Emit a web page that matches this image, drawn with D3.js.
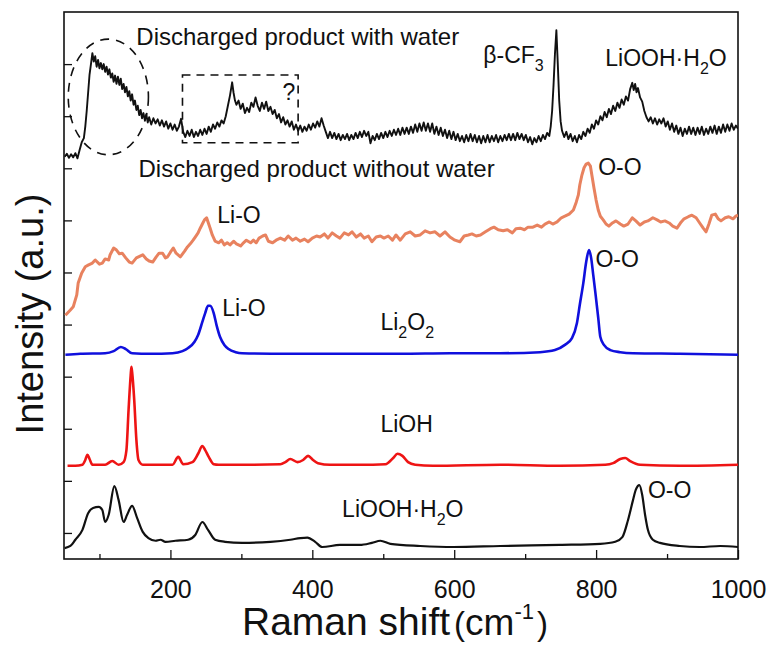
<!DOCTYPE html>
<html lang="en">
<head>
<meta charset="UTF-8">
<title>Raman spectra</title>
<script src="https://d3js.org/d3.v7.min.js"></script>
<style>
body { margin: 0; background: #fff; }
text { font-family: "Liberation Sans", Arial, sans-serif; fill: #111; }
</style>
</head>
<body>
<svg width="772" height="646"></svg>
<script>
// Raman shift (cm-1) vs stacked intensity (a.u., offset per trace)
const xTicks = [200, 400, 600, 800, 1000];
const xMinorTicks = [100, 300, 500, 700, 900];
const yTicks = [0, 1, 2, 3, 4, 5, 6, 7, 8, 9];

// discharged product with water (noisy)
const wetSpectrum = [
  [51,7.22],[54,7.28],[57,7.20],[60,7.27],[63,7.21],[66,7.29],[69,7.19],[72,7.35],[75,7.50],[78,7.58],
  [80,7.80],[82,8.10],[84,8.45],[86,8.80],[88,9.00],[90,9.21],[92,9.05],[94,9.15],[96,8.95],[98,9.08],
  [100,8.92],[102,9.02],[104,8.90],[106,9.00],[108,8.85],[110,8.95],[112,8.80],[114,8.90],[116,8.74],[118,8.82],
  [120,8.66],[122,8.78],[124,8.62],[126,8.76],[128,8.60],[130,8.72],[132,8.52],[134,8.62],[136,8.46],[138,8.56],
  [140,8.38],[142,8.48],[144,8.30],[146,8.42],[148,8.22],[150,8.30],[152,8.12],[154,8.20],[156,8.02],[158,8.12],
  [160,7.96],[162,8.06],[164,7.92],[166,8.04],[168,7.88],[170,7.98],[173,7.84],[176,7.96],[179,7.86],[182,7.94],
  [185,7.82],[188,7.92],[191,7.80],[194,7.90],[197,7.76],[200,7.86],[203,7.74],[206,7.84],[209,7.72],[212,7.80],
  [215,7.95],[218,7.70],[221,7.60],[224,7.72],[227,7.62],[230,7.74],[233,7.60],[236,7.70],[239,7.62],[242,7.74],
  [245,7.64],[248,7.76],[251,7.66],[254,7.80],[257,7.70],[260,7.84],[263,7.76],[266,7.88],[269,7.80],[272,7.92],
  [275,7.86],[278,8.00],[281,8.20],[284,8.40],[287,8.65],[289,8.45],[291,8.30],[293,8.22],[296,8.30],[299,8.14],
  [302,8.24],[305,8.06],[308,8.16],[311,8.08],[314,8.26],[317,8.18],[320,8.36],[323,8.20],[326,8.10],[329,8.26],
  [332,8.14],[335,8.28],[338,8.10],[341,8.18],[344,8.04],[347,8.12],[350,7.96],[353,8.04],[356,7.88],[359,7.98],
  [362,7.84],[365,7.92],[368,7.80],[371,7.90],[374,7.74],[377,7.84],[380,7.72],[383,7.82],[386,7.70],[389,7.80],
  [392,7.72],[395,7.84],[398,7.74],[401,7.86],[404,7.78],[407,7.90],[410,7.80],[413,7.96],[416,7.82],[419,7.70],
  [422,7.58],[425,7.70],[428,7.58],[431,7.68],[434,7.56],[437,7.66],[440,7.54],[443,7.64],[446,7.56],[449,7.66],
  [452,7.54],[455,7.64],[458,7.56],[461,7.68],[464,7.58],[467,7.70],[470,7.60],[473,7.72],[476,7.62],[479,7.70],
  [482,7.48],[485,7.62],[488,7.54],[491,7.66],[494,7.56],[497,7.68],[500,7.58],[503,7.70],[506,7.60],[509,7.72],
  [512,7.62],[515,7.74],[518,7.64],[521,7.76],[524,7.64],[527,7.78],[530,7.66],[533,7.78],[536,7.66],[539,7.80],
  [542,7.68],[545,7.84],[548,7.70],[551,7.86],[554,7.72],[557,7.88],[560,7.72],[563,7.86],[566,7.70],[569,7.86],
  [572,7.66],[575,7.80],[578,7.64],[581,7.78],[584,7.62],[587,7.74],[590,7.58],[593,7.72],[596,7.56],[599,7.70],
  [602,7.54],[605,7.66],[608,7.52],[611,7.62],[614,7.50],[617,7.64],[620,7.52],[623,7.66],[626,7.52],[629,7.64],
  [632,7.50],[635,7.62],[638,7.48],[641,7.62],[644,7.50],[647,7.64],[650,7.50],[653,7.62],[656,7.52],[659,7.64],
  [662,7.50],[665,7.62],[668,7.52],[671,7.64],[674,7.54],[677,7.66],[680,7.54],[683,7.66],[686,7.54],[689,7.68],
  [692,7.56],[695,7.66],[698,7.54],[701,7.64],[704,7.50],[707,7.60],[710,7.46],[713,7.58],[716,7.50],[719,7.62],
  [722,7.52],[725,7.64],[728,7.56],[731,7.68],[734,7.62],[736,7.80],[738,8.10],[740,8.60],[742,9.20],[744,9.65],
  [746,9.00],[748,8.30],[750,7.90],[752,7.72],[755,7.60],[758,7.70],[761,7.56],[764,7.66],[767,7.52],[770,7.62],
  [773,7.50],[776,7.64],[779,7.56],[782,7.70],[785,7.62],[788,7.76],[791,7.68],[794,7.84],[797,7.76],[800,7.92],
  [803,7.84],[806,8.00],[809,7.92],[812,8.08],[815,7.98],[818,8.14],[821,8.04],[824,8.20],[827,8.10],[830,8.26],
  [833,8.16],[836,8.32],[839,8.22],[842,8.38],[845,8.30],[848,8.52],[851,8.64],[853,8.50],[855,8.62],[857,8.46],
  [859,8.54],[862,8.36],[865,8.28],[868,8.10],[871,7.98],[874,7.90],[877,7.98],[880,7.86],[883,7.96],[886,7.84],
  [889,7.94],[892,7.86],[895,7.96],[898,7.80],[901,7.90],[904,7.74],[907,7.86],[910,7.70],[913,7.82],[916,7.66],
  [919,7.78],[922,7.62],[925,7.76],[928,7.66],[931,7.80],[934,7.66],[937,7.78],[940,7.64],[943,7.78],[946,7.66],
  [949,7.80],[952,7.64],[955,7.76],[958,7.66],[961,7.80],[964,7.68],[967,7.82],[970,7.66],[973,7.80],[976,7.68],
  [979,7.84],[982,7.70],[985,7.84],[988,7.72],[991,7.86],[994,7.74],[997,7.82],[1000,7.76]
];

// discharged product without water
const drySpectrum = [
  [52,4.18],[59,4.28],[63,4.34],[68,4.57],[70,4.80],[75,4.99],[80,5.11],[84,5.14],[90,5.18],[94,5.24],
  [100,5.16],[104,5.18],[108,5.26],[113,5.24],[115,5.34],[120,5.47],[124,5.43],[128,5.36],[132,5.37],[137,5.28],
  [142,5.20],[146,5.18],[152,5.28],[158,5.32],[161,5.34],[166,5.26],[170,5.22],[175,5.20],[180,5.30],[184,5.37],
  [189,5.37],[193,5.28],[196,5.30],[200,5.39],[204,5.47],[208,5.37],[214,5.30],[220,5.41],[224,5.49],[228,5.55],
  [232,5.62],[235,5.68],[239,5.76],[242,5.85],[245,5.93],[248,6.01],[251,6.05],[253,5.97],[256,5.85],[259,5.72],
  [263,5.60],[268,5.57],[272,5.62],[276,5.53],[280,5.57],[284,5.53],[289,5.60],[293,5.55],[299,5.51],[303,5.57],
  [307,5.62],[313,5.57],[317,5.62],[321,5.57],[325,5.66],[330,5.70],[334,5.72],[338,5.60],[344,5.57],[349,5.62],
  [355,5.66],[361,5.62],[366,5.70],[372,5.62],[377,5.66],[383,5.60],[389,5.64],[394,5.59],[400,5.66],[406,5.70],
  [411,5.68],[417,5.74],[422,5.66],[428,5.76],[434,5.70],[439,5.66],[445,5.76],[451,5.72],[456,5.78],[462,5.68],
  [468,5.74],[473,5.66],[479,5.70],[484,5.59],[490,5.68],[496,5.70],[501,5.66],[507,5.70],[513,5.62],[518,5.72],
  [524,5.62],[531,5.74],[538,5.78],[545,5.70],[552,5.72],[559,5.80],[566,5.76],[573,5.78],[580,5.70],[587,5.78],
  [594,5.68],[601,5.62],[608,5.59],[614,5.70],[620,5.72],[625,5.74],[631,5.70],[637,5.72],[644,5.78],[651,5.84],
  [656,5.87],[662,5.82],[669,5.80],[675,5.82],[682,5.76],[687,5.84],[693,5.85],[699,5.82],[704,5.87],[711,5.87],
  [717,5.91],[723,5.87],[728,5.93],[734,5.97],[739,5.93],[745,5.97],[751,6.05],[756,6.08],[762,6.12],[768,6.20],
  [772,6.35],[775,6.49],[777,6.68],[780,6.87],[783,7.01],[786,7.08],[789,7.10],[792,7.04],[794,6.87],[797,6.62],
  [800,6.39],[803,6.20],[806,6.08],[810,6.01],[814,5.93],[818,5.89],[823,5.95],[828,5.99],[834,5.93],[839,5.89],
  [845,5.93],[851,6.05],[856,5.99],[862,5.91],[868,5.97],[873,5.99],[880,6.05],[886,6.01],[891,5.97],[897,5.99],
  [903,5.95],[908,5.89],[914,5.85],[920,5.97],[924,6.03],[930,6.07],[935,6.10],[941,6.05],[946,5.95],[951,5.85],
  [955,5.78],[959,5.93],[963,6.10],[968,6.12],[972,6.03],[976,5.99],[982,6.05],[987,6.07],[993,6.03],[997,6.08],
  [1000,6.10]
];

// Li2O2 reference
const li2o2Spectrum = [
  [52,3.42],[73,3.44],[108,3.45],[120,3.49],[130,3.57],[137,3.53],[146,3.45],[172,3.44],[203,3.45],[217,3.49],
  [225,3.55],[234,3.67],[239,3.80],[245,4.05],[249,4.22],[253,4.36],[256,4.36],[261,4.22],[265,3.99],[270,3.76],
  [276,3.61],[282,3.53],[292,3.47],[301,3.45],[366,3.44],[453,3.44],[524,3.44],[594,3.45],[665,3.45],[721,3.47],
  [742,3.51],[756,3.61],[766,3.74],[773,4.03],[777,4.38],[782,4.80],[786,5.20],[790,5.43],[793,5.28],[796,4.95],
  [799,4.61],[803,4.13],[806,3.76],[811,3.61],[820,3.51],[834,3.47],[852,3.45],[918,3.44],[1000,3.42]
];

// LiOH reference
const liohSpectrum = [
  [55,1.29],[66,1.29],[76,1.31],[80,1.40],[83,1.50],[86,1.42],[90,1.31],[108,1.31],[118,1.38],[127,1.31],
  [134,1.36],[138,1.59],[141,2.36],[144,3.03],[145,3.19],[146,3.09],[149,2.55],[152,1.79],[155,1.40],[161,1.31],
  [203,1.31],[211,1.46],[218,1.32],[231,1.36],[239,1.52],[245,1.67],[249,1.59],[254,1.46],[261,1.32],[268,1.31],
  [313,1.31],[355,1.32],[362,1.36],[369,1.42],[379,1.36],[387,1.40],[394,1.48],[401,1.40],[408,1.34],[425,1.31],
  [468,1.31],[503,1.32],[514,1.44],[520,1.52],[527,1.48],[535,1.36],[545,1.31],[570,1.29],[665,1.31],[749,1.29],
  [813,1.31],[824,1.34],[834,1.42],[841,1.44],[848,1.38],[862,1.31],[918,1.29],[1000,1.31]
];

// LiOOH·H2O reference
const liooh0Spectrum = [
  [51,-0.29],[59,-0.25],[66,-0.13],[76,0.06],[84,0.38],[91,0.48],[99,0.50],[104,0.44],[108,0.21],[113,0.35],
  [121,0.90],[127,0.63],[134,0.21],[139,0.35],[146,0.52],[153,0.29],[161,0.02],[169,-0.10],[179,-0.15],[186,-0.13],
  [193,-0.17],[207,-0.15],[225,-0.13],[235,-0.04],[245,0.21],[253,0.06],[263,-0.13],[277,-0.17],[301,-0.19],[341,-0.17],
  [369,-0.13],[383,-0.10],[393,-0.09],[404,-0.17],[414,-0.27],[439,-0.23],[467,-0.23],[484,-0.19],[496,-0.15],[510,-0.21],
  [552,-0.25],[599,-0.27],[665,-0.25],[749,-0.23],[806,-0.21],[827,-0.17],[837,-0.08],[845,0.25],[852,0.63],[856,0.83],
  [861,0.92],[865,0.73],[869,0.35],[873,0.06],[880,-0.13],[890,-0.19],[918,-0.25],[946,-0.27],[975,-0.25],[1000,-0.27]
];

const svg = d3.select('svg');
const plotLeft = 64, plotRight = 738, plotTop = 12, plotBottom = 559;

const x = d3.scaleLinear().domain([50, 1000]).range([plotLeft, plotRight]);
const y = d3.scaleLinear().domain([-0.5, 10]).range([plotBottom, plotTop]);

svg.append('defs').append('clipPath').attr('id', 'plotClip')
  .append('rect')
  .attr('x', plotLeft).attr('y', plotTop)
  .attr('width', plotRight - plotLeft).attr('height', plotBottom - plotTop);

// axes (ticks point inward)
const xAxis = svg.append('g')
  .attr('transform', `translate(0,${plotBottom})`)
  .call(d3.axisBottom(x).tickValues(xTicks).tickSize(-9).tickPadding(21).tickFormat(d3.format('d')));
xAxis.select('.domain').remove();
xAxis.selectAll('line').attr('stroke', '#111').attr('stroke-width', 1.3);
xAxis.selectAll('text').attr('font-size', '25px').attr('fill', '#111')
  .attr('font-family', '"Liberation Sans", Arial, sans-serif');

const xMinor = svg.append('g')
  .attr('transform', `translate(0,${plotBottom})`)
  .call(d3.axisBottom(x).tickValues(xMinorTicks).tickSize(-5).tickFormat(''));
xMinor.select('.domain').remove();
xMinor.selectAll('line').attr('stroke', '#111').attr('stroke-width', 1.3);

const yAxis = svg.append('g')
  .attr('transform', `translate(${plotLeft},0)`)
  .call(d3.axisLeft(y).tickValues(yTicks).tickSize(-8).tickFormat(''));
yAxis.select('.domain').remove();
yAxis.selectAll('line').attr('stroke', '#111').attr('stroke-width', 1.3);

// frame
svg.append('rect')
  .attr('x', plotLeft).attr('y', plotTop)
  .attr('width', plotRight - plotLeft).attr('height', plotBottom - plotTop)
  .attr('fill', 'none').attr('stroke', '#111').attr('stroke-width', 1.6);

// spectra
const line = d3.line().x(d => x(d[0])).y(d => y(d[1]));
const traces = [
  { data: liooh0Spectrum, color: '#111111', width: 2.2, curve: d3.curveMonotoneX },
  { data: liohSpectrum, color: '#ee1414', width: 2.6, curve: d3.curveMonotoneX },
  { data: li2o2Spectrum, color: '#1010dd', width: 2.6, curve: d3.curveMonotoneX },
  { data: drySpectrum, color: '#e8825f', width: 3, curve: d3.curveLinear },
  { data: wetSpectrum, color: '#111111', width: 1.9, curve: d3.curveLinear }
];
const plot = svg.append('g').attr('clip-path', 'url(#plotClip)');
traces.forEach(t => {
  plot.append('path')
    .datum(t.data)
    .attr('fill', 'none')
    .attr('stroke', t.color)
    .attr('stroke-width', t.width)
    .attr('stroke-linejoin', 'round')
    .attr('d', line.curve(t.curve));
});

// dashed highlights on the wet spectrum
svg.append('ellipse')
  .attr('cx', (x(56) + x(169)) / 2).attr('cy', (y(9.48) + y(7.26)) / 2)
  .attr('rx', (x(169) - x(56)) / 2).attr('ry', (y(7.26) - y(9.48)) / 2)
  .attr('fill', 'none').attr('stroke', '#111').attr('stroke-width', 1.6)
  .attr('stroke-dasharray', '9,7');
svg.append('rect')
  .attr('x', x(217)).attr('y', y(8.79))
  .attr('width', x(380) - x(217)).attr('height', y(7.49) - y(8.79))
  .attr('fill', 'none').attr('stroke', '#111').attr('stroke-width', 1.6)
  .attr('stroke-dasharray', '8,6');

// labels: [shift, intensity, font size, parts]
const labels = [
  [152, 9.37, 24, [['Discharged product with water']]],
  [155, 6.83, 24, [['Discharged product without water']]],
  [266, 5.95, 23, [['Li-O']]],
  [803, 6.87, 23, [['O-O']]],
  [273, 4.17, 23, [['Li-O']]],
  [799, 5.11, 23, [['O-O']]],
  [496, 3.90, 23, [['Li'], ['2', 'sub'], ['O'], ['2', 'sub']]],
  [496, 1.94, 23, [['LiOH']]],
  [442, 0.31, 23, [['LiOOH·H'], ['2', 'sub'], ['O']]],
  [873, 0.67, 23, [['O-O']]],
  [641, 9.02, 23, [['β-CF'], ['3', 'sub']]],
  [813, 8.96, 23, [['LiOOH·H'], ['2', 'sub'], ['O']]],
  [358, 8.31, 23, [['?']]]
];
labels.forEach(([sx, sy, size, parts]) => {
  const t = svg.append('text')
    .attr('x', x(sx)).attr('y', y(sy))
    .attr('font-size', size + 'px');
  let shifted = 0;
  parts.forEach(([txt, kind]) => {
    const target = kind === 'sub' ? 8 : 0;
    t.append('tspan')
      .attr('dy', target - shifted)
      .attr('font-size', kind === 'sub' ? '16px' : null)
      .text(txt);
    shifted = target;
  });
});

// axis titles
svg.append('text')
  .attr('transform', 'translate(43,314) rotate(-90)')
  .attr('text-anchor', 'middle')
  .attr('font-size', '38px')
  .text('Intensity (a.u.)');

const xt = svg.append('text')
  .attr('x', 242).attr('y', 635)
  .attr('font-size', '39px');
xt.append('tspan').text('Raman shift');
xt.append('tspan').attr('dx', 4).attr('font-size', '33px').text('(');
xt.append('tspan').attr('font-size', '37px').text('cm');
xt.append('tspan').attr('font-size', '22px').attr('dy', -16).text('-1');
xt.append('tspan').attr('dx', 3).attr('font-size', '33px').attr('dy', 16).text(')');
</script>
</body>
</html>
